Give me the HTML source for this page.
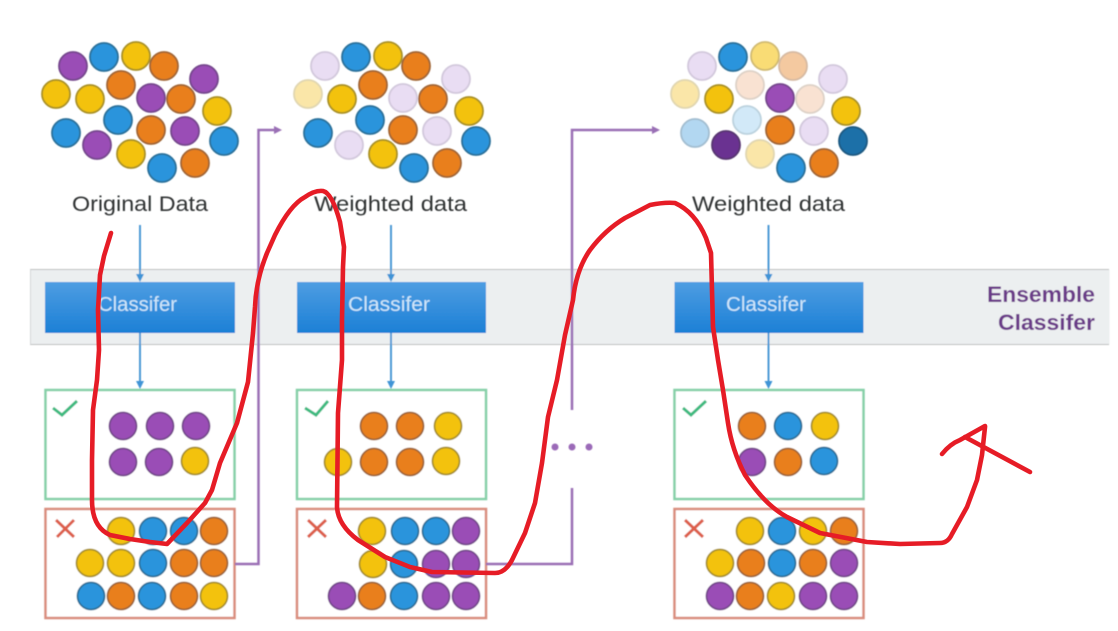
<!DOCTYPE html>
<html>
<head>
<meta charset="utf-8">
<style>
html,body{margin:0;padding:0;background:#fff;width:1118px;height:631px;overflow:hidden}
svg{display:block}
.p{fill:#9a4db6;stroke:#75478c}
.b{fill:#2b94dc;stroke:#2a7099}
.y{fill:#f3c20f;stroke:#a89028}
.o{fill:#e97f1f;stroke:#a06535}
.lp{fill:#e9ddf3;stroke:#d2c8dc}
.ly{fill:#fae6a8;stroke:#e0d6b0}
.my{fill:#f9dc75;stroke:#d0ba72}
.lo{fill:#f4c9a0;stroke:#d6baa2}
.vo{fill:#f9e2d2;stroke:#ddd1c7}
.lb{fill:#b2d7f1;stroke:#a2bdd0}
.vb{fill:#d2e9f8;stroke:#bcd2de}
.dp{fill:#6b3191;stroke:#563670}
.db{fill:#1f6fa8;stroke:#1d5880}
circle{stroke-width:1.8}
text{font-family:"Liberation Sans",sans-serif}
</style>
</head>
<body>
<svg width="1118" height="631" viewBox="0 0 1118 631" xmlns="http://www.w3.org/2000/svg">
<defs>
<linearGradient id="g" x1="0" y1="0" x2="0" y2="1"><stop offset="0" stop-color="#4e9de2"/><stop offset="1" stop-color="#1c80d6"/></linearGradient>
<filter id="s" x="-2%" y="-2%" width="104%" height="104%"><feGaussianBlur stdDeviation="0.55"/></filter>
</defs>
<rect width="1118" height="631" fill="#fff"/>
<g filter="url(#s)">
<rect x="30.5" y="269.5" width="1079" height="75" fill="#eceff0"/>
<path d="M30 269.5H1109M30 344.5H1109" stroke="#bdbfc0" stroke-width="1"/>
<path d="M30.5 269.5V344.5" stroke="#d5d7d8" stroke-width="1"/>

<rect x="45" y="282" width="190" height="51" fill="url(#g)"/>
<rect x="297" y="282" width="189" height="51" fill="url(#g)"/>
<rect x="674.5" y="282" width="189" height="51" fill="url(#g)"/>

<g stroke="#4d9ad6" stroke-width="2" fill="none">
<path d="M140 225V276M140 333V383"/>
<path d="M391 225V276M391 333V383"/>
<path d="M768.5 225V276M768.5 333V383"/>
</g>
<g fill="#3f94d6">
<path d="M136 274h8l-4 8zM136 381h8l-4 8z"/>
<path d="M387 274h8l-4 8zM387 381h8l-4 8z"/>
<path d="M764.500 274h8l-4 8zM764.500 381h8l-4 8z"/>
</g>

<g fill="#fff" stroke="#86d0a8" stroke-width="2.5">
<rect x="45.500" y="390" width="189" height="109"/>
<rect x="297" y="390" width="189" height="109"/>
<rect x="674.500" y="390" width="189" height="109"/>
</g>
<g fill="#fff" stroke="#d98d7e" stroke-width="2.5">
<rect x="45.500" y="509" width="189" height="109"/>
<rect x="297" y="509" width="189" height="109"/>
<rect x="674.500" y="509" width="189" height="109"/>
</g>

<g fill="none" stroke="#9a6fb5" stroke-width="2.500">
<path d="M235 564H258.500V130H276"/>
<path d="M486 564H572V488"/>
<path d="M572 410V130H654"/>
</g>
<path d="M274 126l8 4-8 4zM652 126l8 4-8 4z" fill="#9a6fb5"/>
<g fill="#9b6bb8"><circle cx="555" cy="447" r="3.500" style="stroke:none"/><circle cx="572" cy="447" r="3.500" style="stroke:none"/><circle cx="589" cy="447" r="3.500" style="stroke:none"/></g>

<g fill="none" stroke="#3dba80" stroke-width="3">
<path d="M53 408L62 415L77 401"/>
<path d="M305 408L316 415L328 401"/>
<path d="M683 408L691 415L706 401"/>
</g>
<g fill="none" stroke="#dd5f4c" stroke-width="3">
<path d="M56 520L74 537M74 520L57 537"/>
<path d="M308 520L326 537M326 520L308 537"/>
<path d="M685 520L703 537M703 520L685 537"/>
</g>

<!-- cluster 1 -->
<g>
<circle class="p" cx="73" cy="66" r="14"/><circle class="b" cx="104" cy="57" r="14"/><circle class="y" cx="136" cy="56" r="14"/><circle class="o" cx="164" cy="66" r="14"/><circle class="p" cx="204" cy="79" r="14"/>
<circle class="y" cx="56" cy="94" r="14"/><circle class="y" cx="90" cy="99" r="14"/><circle class="o" cx="121" cy="85" r="14"/><circle class="p" cx="151" cy="98" r="14"/><circle class="o" cx="181" cy="99" r="14"/><circle class="y" cx="217" cy="111" r="14"/>
<circle class="b" cx="66" cy="133" r="14"/><circle class="p" cx="97" cy="145" r="14"/><circle class="b" cx="118" cy="120" r="14"/><circle class="o" cx="151" cy="130" r="14"/><circle class="p" cx="185" cy="131" r="14"/><circle class="b" cx="224" cy="141" r="14"/>
<circle class="y" cx="131" cy="154" r="14"/><circle class="b" cx="162" cy="168" r="14"/><circle class="o" cx="195" cy="163" r="14"/>
</g>
<!-- cluster 2 -->
<g transform="translate(252 0)">
<circle class="lp" cx="73" cy="66" r="14"/><circle class="b" cx="104" cy="57" r="14"/><circle class="y" cx="136" cy="56" r="14"/><circle class="o" cx="164" cy="66" r="14"/><circle class="lp" cx="204" cy="79" r="14"/>
<circle class="ly" cx="56" cy="94" r="14"/><circle class="y" cx="90" cy="99" r="14"/><circle class="o" cx="121" cy="85" r="14"/><circle class="lp" cx="151" cy="98" r="14"/><circle class="o" cx="181" cy="99" r="14"/><circle class="y" cx="217" cy="111" r="14"/>
<circle class="b" cx="66" cy="133" r="14"/><circle class="lp" cx="97" cy="145" r="14"/><circle class="b" cx="118" cy="120" r="14"/><circle class="o" cx="151" cy="130" r="14"/><circle class="lp" cx="185" cy="131" r="14"/><circle class="b" cx="224" cy="141" r="14"/>
<circle class="y" cx="131" cy="154" r="14"/><circle class="b" cx="162" cy="168" r="14"/><circle class="o" cx="195" cy="163" r="14"/>
</g>
<!-- cluster 3 -->
<g transform="translate(629 0)">
<circle class="lp" cx="73" cy="66" r="14"/><circle class="b" cx="104" cy="57" r="14"/><circle class="my" cx="136" cy="56" r="14"/><circle class="lo" cx="164" cy="66" r="14"/><circle class="lp" cx="204" cy="79" r="14"/>
<circle class="ly" cx="56" cy="94" r="14"/><circle class="y" cx="90" cy="99" r="14"/><circle class="vo" cx="121" cy="85" r="14"/><circle class="p" cx="151" cy="98" r="14"/><circle class="vo" cx="181" cy="99" r="14"/><circle class="y" cx="217" cy="111" r="14"/>
<circle class="lb" cx="66" cy="133" r="14"/><circle class="dp" cx="97" cy="145" r="14"/><circle class="vb" cx="118" cy="120" r="14"/><circle class="o" cx="151" cy="130" r="14"/><circle class="lp" cx="185" cy="131" r="14"/><circle class="db" cx="224" cy="141" r="14"/>
<circle class="ly" cx="131" cy="154" r="14"/><circle class="b" cx="162" cy="168" r="14"/><circle class="o" cx="195" cy="163" r="14"/>
</g>

<!-- box circles 1 -->
<circle class="p" cx="123" cy="426" r="13.500"/><circle class="p" cx="160" cy="426" r="13.500"/><circle class="p" cx="196" cy="426" r="13.500"/>
<circle class="p" cx="123" cy="462" r="13.500"/><circle class="p" cx="159" cy="462" r="13.500"/><circle class="y" cx="195" cy="461" r="13.500"/>
<circle class="y" cx="121" cy="531" r="13.500"/><circle class="b" cx="153" cy="531" r="13.500"/><circle class="b" cx="184" cy="531" r="13.500"/><circle class="o" cx="214" cy="531" r="13.500"/>
<circle class="y" cx="90" cy="563" r="13.500"/><circle class="y" cx="121" cy="563" r="13.500"/><circle class="b" cx="153" cy="563" r="13.500"/><circle class="o" cx="184" cy="563" r="13.500"/><circle class="o" cx="214" cy="563" r="13.500"/>
<circle class="b" cx="91" cy="596" r="13.500"/><circle class="o" cx="121" cy="596" r="13.500"/><circle class="b" cx="152" cy="596" r="13.500"/><circle class="o" cx="184" cy="596" r="13.500"/><circle class="y" cx="214" cy="596" r="13.500"/>

<!-- box circles 2 -->
<circle class="o" cx="374" cy="426" r="13.500"/><circle class="o" cx="410" cy="426" r="13.500"/><circle class="y" cx="448" cy="426" r="13.500"/>
<circle class="y" cx="338" cy="462" r="13.500"/><circle class="o" cx="374" cy="462" r="13.500"/><circle class="o" cx="410" cy="462" r="13.500"/><circle class="y" cx="446" cy="461" r="13.500"/>
<circle class="y" cx="372" cy="531" r="13.500"/><circle class="b" cx="405" cy="531" r="13.500"/><circle class="b" cx="436" cy="531" r="13.500"/><circle class="p" cx="466" cy="531" r="13.500"/>
<circle class="y" cx="373" cy="564" r="13.500"/><circle class="b" cx="404" cy="564" r="13.500"/><circle class="p" cx="436" cy="564" r="13.500"/><circle class="p" cx="466" cy="564" r="13.500"/>
<circle class="p" cx="342" cy="596" r="13.500"/><circle class="o" cx="372" cy="596" r="13.500"/><circle class="b" cx="404" cy="596" r="13.500"/><circle class="p" cx="436" cy="596" r="13.500"/><circle class="p" cx="466" cy="596" r="13.500"/>

<!-- box circles 3 -->
<circle class="o" cx="752" cy="426" r="13.500"/><circle class="b" cx="788" cy="426" r="13.500"/><circle class="y" cx="825" cy="426" r="13.500"/>
<circle class="p" cx="752" cy="462" r="13.500"/><circle class="o" cx="788" cy="462" r="13.500"/><circle class="b" cx="824" cy="461" r="13.500"/>
<circle class="y" cx="750" cy="531" r="13.500"/><circle class="b" cx="782" cy="531" r="13.500"/><circle class="y" cx="813" cy="531" r="13.500"/><circle class="o" cx="844" cy="531" r="13.500"/>
<circle class="y" cx="720" cy="563" r="13.500"/><circle class="o" cx="751" cy="563" r="13.500"/><circle class="b" cx="782" cy="563" r="13.500"/><circle class="o" cx="813" cy="563" r="13.500"/><circle class="p" cx="844" cy="563" r="13.500"/>
<circle class="p" cx="720" cy="596" r="13.500"/><circle class="o" cx="750" cy="596" r="13.500"/><circle class="y" cx="781" cy="596" r="13.500"/><circle class="p" cx="813" cy="596" r="13.500"/><circle class="p" cx="844" cy="596" r="13.500"/>

<!-- labels -->
<g font-size="21" fill="#2f3133">
<text x="72" y="211" textLength="136" lengthAdjust="spacingAndGlyphs">Original Data</text>
<text x="314" y="211" textLength="153" lengthAdjust="spacingAndGlyphs">Weighted data</text>
<text x="692" y="211" textLength="153" lengthAdjust="spacingAndGlyphs">Weighted data</text>
</g>
<g font-size="20" fill="#cfe7fa">
<text x="98" y="311" textLength="79" lengthAdjust="spacingAndGlyphs">Classifer</text>
<text x="348" y="311" textLength="82" lengthAdjust="spacingAndGlyphs">Classifer</text>
<text x="726" y="311" textLength="80" lengthAdjust="spacingAndGlyphs">Classifer</text>
</g>
<g font-size="22" font-weight="bold" fill="#6a3a88">
<text x="987" y="302" textLength="108" lengthAdjust="spacingAndGlyphs">Ensemble</text>
<text x="998" y="330" textLength="97" lengthAdjust="spacingAndGlyphs">Classifer</text>
</g>
</g>

<!-- red hand-drawn stroke -->
<g fill="none" stroke="#e61c26" stroke-width="4.600" stroke-linecap="round" stroke-linejoin="round">
<path d="M111 233L104 256L100 275L98 310L99 350L97 380L93 410L92 460L92 500Q92 527 110 535L130 539L150 542L167 544L187 523L205 503L212 490L220 463L237 423L248 382L253 333L255 307Q256 280 267 253L275 235Q290 205 305 197Q315 190 323 191Q332 193 340 222L344 247L343 267L342 320L342 360L338 413L337 507Q338 525 358 540L385 557L410 567L432 572L495 573Q505 573 512 560L525 533L535 503L542 463L548 417L557 380L565 335L573 300Q576 270 590 250Q605 230 625 218L650 205Q665 202 675 203Q695 212 706 238L711 253L713 327L718 360L723 390L728 423Q732 450 745 475Q765 505 787 517L820 533L867 542L900 544L940 543Q948 543 952 534L967 507L977 480L982 455L985 427"/>
<path d="M942 454Q950 444 960 440L985 426"/>
<path d="M965 437L1030 472"/>
</g>
</svg>
</body>
</html>
